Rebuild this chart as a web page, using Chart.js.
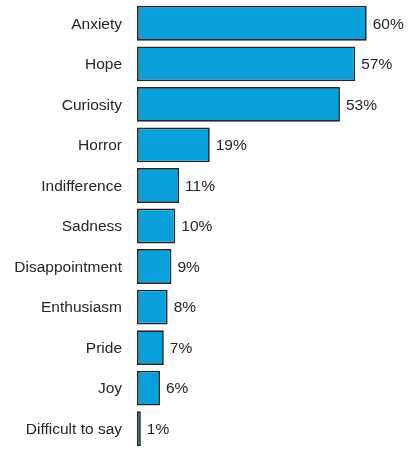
<!DOCTYPE html>
<html>
<head>
<meta charset="utf-8">
<script src="https://cdn.jsdelivr.net/npm/chart.js@4/dist/chart.umd.min.js"></script>
<style>
  html, body { margin: 0; padding: 0; background: #fff; }
  .chart-wrap { width: 417px; height: 454px; position: relative; }
</style>
</head>
<body>
<div class="chart-wrap">
  <canvas id="emotionChart"></canvas>
</div>
<script>
const categories = [
  "Anxiety", "Hope", "Curiosity", "Horror", "Indifference", "Sadness",
  "Disappointment", "Enthusiasm", "Pride", "Joy", "Difficult to say"
];
const shares = [60, 57, 53, 19, 11, 10, 9, 8, 7, 6, 1];

const FONT = "'Liberation Sans', Arial, Helvetica, sans-serif";

// writes "NN%" just past the end of each bar
const valueLabels = {
  id: "valueLabels",
  afterDatasetsDraw(chart) {
    const ctx = chart.ctx;
    const meta = chart.getDatasetMeta(0);
    ctx.save();
    ctx.font = "15.5px " + FONT;
    ctx.fillStyle = "#262626";
    ctx.textAlign = "left";
    ctx.textBaseline = "middle";
    meta.data.forEach((bar, i) => {
      ctx.fillText(shares[i] + "%", bar.x + 6, bar.y + 1);
    });
    ctx.restore();
  }
};

function createChart() {
  const ctx = document.getElementById("emotionChart");
  new Chart(ctx, {
    type: "bar",
    data: {
      labels: categories,
      datasets: [
        {
          data: shares,
          backgroundColor: "#09a0dc",
          borderColor: "#262626",
          borderWidth: 1.7,
          borderSkipped: false,
          categoryPercentage: 0.86,
          barPercentage: 1.0,
        },
      ],
    },
    options: {
      indexAxis: "y",
      responsive: true,
      maintainAspectRatio: false,
      animation: false,
      layout: { padding: { top: 3, bottom: 5, left: 0, right: 12 } },
      plugins: {
        legend: { display: false },
        tooltip: { enabled: false },
      },
      scales: {
        x: {
          display: false,
          min: 0,
          max: 70,
        },
        y: {
          grid: { display: false },
          border: { display: false },
          ticks: {
            color: "#262626",
            padding: 7,
            labelOffset: 1,
            font: { family: FONT, size: 15.5 },
          },
          afterFit(scale) {
            // fixed label column, and no extra room for half-labels at the ends
            scale.width = 137;
            scale.paddingTop = 0;
            scale.paddingBottom = 0;
          },
        },
      },
    },
    plugins: [valueLabels],
  });
}

createChart();
</script>
</body>
</html>
